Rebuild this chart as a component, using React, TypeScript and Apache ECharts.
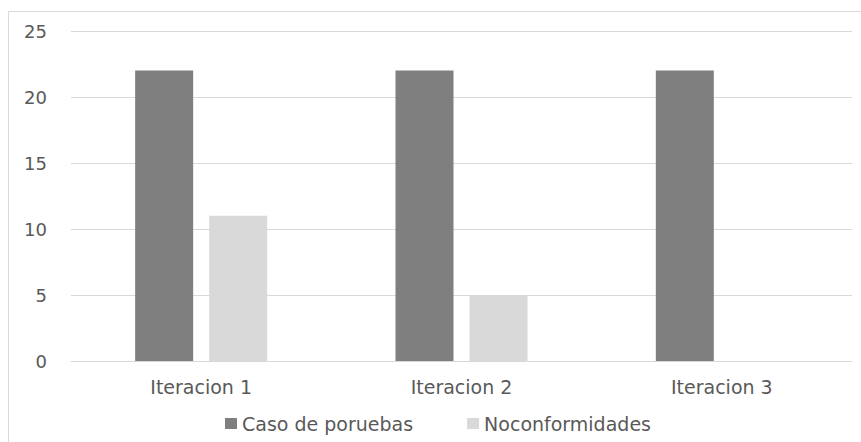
import React, { useEffect, useRef } from "react";
import * as echarts from "echarts";

const categories = ["Iteracion 1", "Iteracion 2", "Iteracion 3"];
const casoValues = [22, 22, 22];
const noconfValues = [11, 5, 0];
const seriesNames = ["Caso de poruebas", "Noconformidades"];

export default function App() {
  const ref = useRef<HTMLDivElement>(null);
  useEffect(() => {
    if (!ref.current) return;
    const chart = echarts.init(ref.current, undefined, { renderer: "svg" });
    const font = "DejaVu Sans";
    chart.setOption({
      animation: false,
      backgroundColor: "#ffffff",
      textStyle: { fontFamily: font },
      graphic: [
        {
          type: "rect",
          shape: { x: 8.5, y: 11.5, width: 900, height: 500 },
          style: { fill: "none", stroke: "#d9d9d9", lineWidth: 1 },
          silent: true,
        },
      ],
      grid: { left: 71, right: 9, top: 31, bottom: 81 },
      legend: {
        data: seriesNames,
        top: 409,
        left: 220,
        itemWidth: 12,
        itemHeight: 11,
        itemGap: 54,
        icon: "rect",
        textStyle: { color: "#595959", fontSize: 19, fontFamily: font },
      },
      xAxis: {
        type: "category",
        data: categories,
        axisLine: { lineStyle: { color: "#d9d9d9" } },
        axisTick: { show: false },
        axisLabel: { color: "#595959", fontSize: 19, margin: 16, fontFamily: font },
      },
      yAxis: {
        type: "value",
        min: 0,
        max: 25,
        interval: 5,
        axisLine: { show: false },
        axisTick: { show: false },
        axisLabel: { color: "#595959", fontSize: 18, margin: 24, fontFamily: font },
        splitLine: { lineStyle: { color: "#d9d9d9" } },
      },
      series: [
        {
          name: seriesNames[0],
          type: "bar",
          data: casoValues,
          barWidth: 58,
          barGap: "27.6%",
          itemStyle: { color: "#7f7f7f" },
        },
        {
          name: seriesNames[1],
          type: "bar",
          data: noconfValues,
          barWidth: 58,
          itemStyle: { color: "#d9d9d9" },
        },
      ],
    });
    return () => chart.dispose();
  }, []);
  return (
    <div
      ref={ref}
      style={{ position: "absolute", left: 0, top: 0, width: 861, height: 442 }}
    />
  );
}
